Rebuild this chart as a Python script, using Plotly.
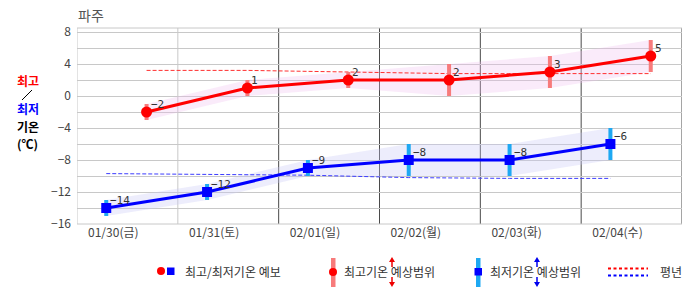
import plotly.graph_objects as go

# ---------------- data ----------------
dates = ["01/30(금)", "01/31(토)", "02/01(일)", "02/02(월)", "02/03(화)", "02/04(수)"]
max_temp = [-2, 1, 2, 2, 3, 5]
min_temp = [-14, -12, -9, -8, -8, -6]
max_hi = [-1, 2, 3, 4, 5, 7]
max_lo = [-3, 0, 1, 0, 1, 3]
min_hi = [-13, -11, -8, -6, -6, -4]
min_lo = [-15, -13, -10, -10, -10, -8]
normal_max = [3.2, 3.2, 3.0, 2.8, 2.8, 2.8]
normal_min = [-9.7, -9.8, -9.9, -10.2, -10.3, -10.3]
y_ticks = [-16, -12, -8, -4, 0, 4, 8]

# time-of-day offsets within a day (fraction of day)
MAX_OFF = 0.69
MIN_OFF = 0.29
LBL_OFF = 0.36

n = len(dates)
x_max = [i + MAX_OFF for i in range(n)]
x_min = [i + MIN_OFF for i in range(n)]

# plot-area pixel geometry
W, H = 686, 295
L, R, T, B = 77, 682, 28, 224


def px(x):
    return (x - L) / (R - L)


def py(y):
    return (B - y) / (B - T)


FONT_KR = "Noto Sans CJK KR"
RED = "#ff0000"
BLUE = "#0000ff"
SALMON = "#f77b7b"
SKY = "#1ea8f2"

fig = go.Figure()

# bands
fig.add_trace(go.Scatter(
    x=x_max + x_max[::-1], y=max_hi + max_lo[::-1], fill="toself",
    fillcolor="rgba(240,190,240,0.30)", line=dict(width=0), mode="lines",
    hoverinfo="skip", showlegend=False))
fig.add_trace(go.Scatter(
    x=x_min + x_min[::-1], y=min_hi + min_lo[::-1], fill="toself",
    fillcolor="rgba(200,200,245,0.33)", line=dict(width=0), mode="lines",
    hoverinfo="skip", showlegend=False))

# normals
fig.add_trace(go.Scatter(x=x_max, y=normal_max, mode="lines",
                         line=dict(color="#ff3030", width=1, dash="4px,2px"),
                         showlegend=False, hoverinfo="skip"))
fig.add_trace(go.Scatter(x=x_min, y=normal_min, mode="lines",
                         line=dict(color="#3c3cff", width=1, dash="4px,2px"),
                         showlegend=False, hoverinfo="skip"))

# range bars
bx, by = [], []
for xv, lo, hi in zip(x_max, max_lo, max_hi):
    bx += [xv, xv, None]
    by += [lo, hi, None]
fig.add_trace(go.Scatter(x=bx, y=by, mode="lines", line=dict(color=SALMON, width=4),
                         showlegend=False, hoverinfo="skip"))
bx, by = [], []
for xv, lo, hi in zip(x_min, min_lo, min_hi):
    bx += [xv, xv, None]
    by += [lo, hi, None]
fig.add_trace(go.Scatter(x=bx, y=by, mode="lines", line=dict(color=SKY, width=4),
                         showlegend=False, hoverinfo="skip"))

# main lines
fig.add_trace(go.Scatter(x=x_max, y=max_temp, mode="lines+markers",
                         line=dict(color=RED, width=3),
                         marker=dict(symbol="circle", size=11, color=RED),
                         showlegend=False))
fig.add_trace(go.Scatter(x=x_min, y=min_temp, mode="lines+markers",
                         line=dict(color=BLUE, width=3),
                         marker=dict(symbol="square", size=10, color=BLUE),
                         showlegend=False))

annotations = []


def fmt(v):
    return str(v).replace("-", "\u2212")


for xv, v in zip(x_max, max_temp):
    annotations.append(dict(x=xv, y=v, xref="x", yref="y", text=fmt(v), showarrow=False,
                            xanchor="left", yanchor="middle", xshift=2, yshift=8,
                            font=dict(family="DejaVu Sans Mono", size=11, color="#333")))
for xv, v in zip(x_min, min_temp):
    annotations.append(dict(x=xv, y=v, xref="x", yref="y", text=fmt(v), showarrow=False,
                            xanchor="left", yanchor="middle", xshift=2, yshift=8,
                            font=dict(family="DejaVu Sans Mono", size=11, color="#333")))

# title
annotations.append(dict(x=px(76), y=py(15), xref="paper", yref="paper", text="파주",
                        showarrow=False, xanchor="left", yanchor="middle",
                        font=dict(family=FONT_KR, size=14, color="#555")))

# y-axis title pieces
for txt, yy, col in [("최고", 80.5, "#ff0000"), ("최저", 109, "#0000ff"),
                     ("기온", 127, "#000000"), ("(℃)", 143, "#000000")]:
    annotations.append(dict(x=px(27.5), y=py(yy), xref="paper", yref="paper",
                            text="<b>%s</b>" % txt, showarrow=False,
                            xanchor="center", yanchor="middle",
                            font=dict(family=FONT_KR, size=12, color=col)))

# legend texts
for txt, xx in [("최고/최저기온 예보", 183), ("최고기온 예상범위", 342),
                ("최저기온 예상범위", 488), ("평년", 658)]:
    annotations.append(dict(x=px(xx), y=py(271), xref="paper", yref="paper", text=txt,
                            showarrow=False, xanchor="left", yanchor="middle",
                            font=dict(family=FONT_KR, size=12, color="#333")))

shapes = []
# plot frame & vertical day lines
LIGHT = "#c8c8c8"
DARK = "#4a4a4a"
shapes.append(dict(type="line", xref="x", yref="paper", x0=0, x1=0, y0=0, y1=1,
                   line=dict(color=LIGHT, width=1), layer="between"))
shapes.append(dict(type="line", xref="x", yref="paper", x0=1, x1=1, y0=0, y1=1,
                   line=dict(color=LIGHT, width=1), layer="between"))
for d in range(2, n + 1):
    shapes.append(dict(type="line", xref="x", yref="paper", x0=d, x1=d, y0=0, y1=1,
                       line=dict(color=DARK, width=1), layer="between"))
shapes.append(dict(type="line", xref="paper", yref="paper", x0=0, x1=1, y0=1, y1=1,
                   line=dict(color=LIGHT, width=1), layer="between"))
shapes.append(dict(type="line", xref="paper", yref="paper", x0=0, x1=1, y0=0, y1=0,
                   line=dict(color=LIGHT, width=1), layer="between"))

# y-title slash
shapes.append(dict(type="line", xref="paper", yref="paper", x0=px(22), y0=py(100),
                   x1=px(32), y1=py(90), line=dict(color="#000", width=1)))

# legend symbols
def rect(x0, y0, x1, y1, col, kind="rect"):
    return dict(type=kind, xref="paper", yref="paper", x0=px(x0), x1=px(x1),
                y0=py(y1), y1=py(y0), fillcolor=col, line=dict(width=0))

shapes.append(rect(157, 267, 165, 275, RED, "circle"))
shapes.append(rect(167, 267.5, 174.5, 275, BLUE))
# item 2
shapes.append(rect(331, 258, 335.5, 287, SALMON))
shapes.append(rect(329, 268, 337, 276, RED, "circle"))
# item 3
shapes.append(rect(476, 258, 480.5, 287, SKY))
shapes.append(rect(474.5, 268, 482, 275.5, BLUE))


def arrows(xc, col):
    out = []
    out.append(dict(type="line", xref="paper", yref="paper", x0=px(xc), x1=px(xc),
                    y0=py(267), y1=py(260), line=dict(color=col, width=1.5)))
    out.append(dict(type="line", xref="paper", yref="paper", x0=px(xc), x1=px(xc),
                    y0=py(277), y1=py(284), line=dict(color=col, width=1.5)))
    for (a, b, c) in [((xc - 3, 262), (xc + 3, 262), (xc, 257)),
                      ((xc - 3, 282), (xc + 3, 282), (xc, 287))]:
        path = "M %f %f L %f %f L %f %f Z" % (px(a[0]), py(a[1]), px(b[0]), py(b[1]),
                                             px(c[0]), py(c[1]))
        out.append(dict(type="path", xref="paper", yref="paper", path=path,
                        fillcolor=col, line=dict(width=0)))
    return out


shapes += arrows(392, "#ee0000")
shapes += arrows(537, "#0000ee")

# normal legend dotted lines
shapes.append(dict(type="line", xref="paper", yref="paper", x0=px(608), x1=px(648),
                   y0=py(268.5), y1=py(268.5), line=dict(color="#ff0000", width=2, dash="3px,2.5px")))
shapes.append(dict(type="line", xref="paper", yref="paper", x0=px(608), x1=px(648),
                   y0=py(275.5), y1=py(275.5), line=dict(color="#0000ff", width=2, dash="3px,2.5px")))

fig.update_layout(
    width=W, height=H, autosize=False,
    margin=dict(l=L, r=W - R, t=T, b=H - B, pad=0),
    paper_bgcolor="white", plot_bgcolor="white",
    showlegend=False,
    shapes=shapes, annotations=annotations,
    xaxis=dict(range=[0, n], tickvals=[i + LBL_OFF for i in range(n)], ticktext=dates,
               showgrid=False, zeroline=False, showline=False, ticks="",
               tickfont=dict(family=FONT_KR, size=12, color="#444"), fixedrange=True),
    yaxis=dict(range=[-16, 8.5], tickvals=y_ticks, showgrid=True, gridcolor=LIGHT,
               gridwidth=1, zeroline=False, showline=False, ticks="",
               ticklabelstandoff=5,
               minor=dict(dtick=2, tick0=0, showgrid=True, gridcolor=LIGHT, gridwidth=1),
               tickfont=dict(family=FONT_KR, size=12, color="#444"), fixedrange=True),
)

fig.write_html("out.html")
